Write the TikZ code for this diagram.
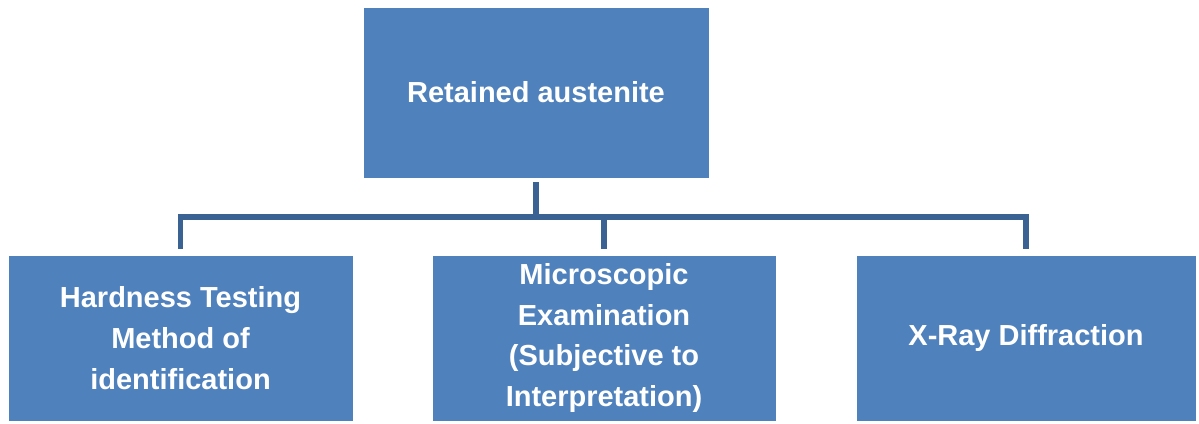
\documentclass[tikz,border=0pt]{standalone}
\usepackage{fontspec}
\setmainfont{Liberation Sans}
\definecolor{boxblue}{HTML}{4F81BD}
\definecolor{lineblue}{HTML}{3A6293}

\begin{document}
\begin{tikzpicture}[x=0.02cm, y=-0.02cm,
    box/.style={fill=boxblue, draw=white, thin, text=white, align=center,
        font=\fontsize{16.5}{23.3}\selectfont\bfseries, inner sep=0pt},
    link/.style={draw=lineblue, line width=3.4pt}]
    \useasboundingbox (0,0) rectangle (1199,423);
    \node[box, minimum width=6.92cm, minimum height=3.42cm] (root) at (536,92.5) {Retained austenite};
    \node[box, minimum width=6.9cm, minimum height=3.32cm] (hard) at (180.5,338) {Hardness Testing\\Method of\\identification};
    \node[box, minimum width=6.88cm, minimum height=3.32cm] (micro) at (604,338) {Microscopic\\Examination\\(Subjective to\\Interpretation)};
    \node[box, minimum width=6.8cm, minimum height=3.32cm] (xray) at (1026,338) {X-Ray Diffraction};
    \coordinate (bus) at (536,217);
    \draw[link, shorten <=4*0.02cm] (root.south) -- (bus);
    \draw[link, shorten >=6*0.02cm] (bus) -| (hard.north);
    \draw[link, shorten >=6*0.02cm] (bus) -| (micro.north);
    \draw[link, shorten >=6*0.02cm] (bus) -| (xray.north);
\end{tikzpicture}
\end{document}
